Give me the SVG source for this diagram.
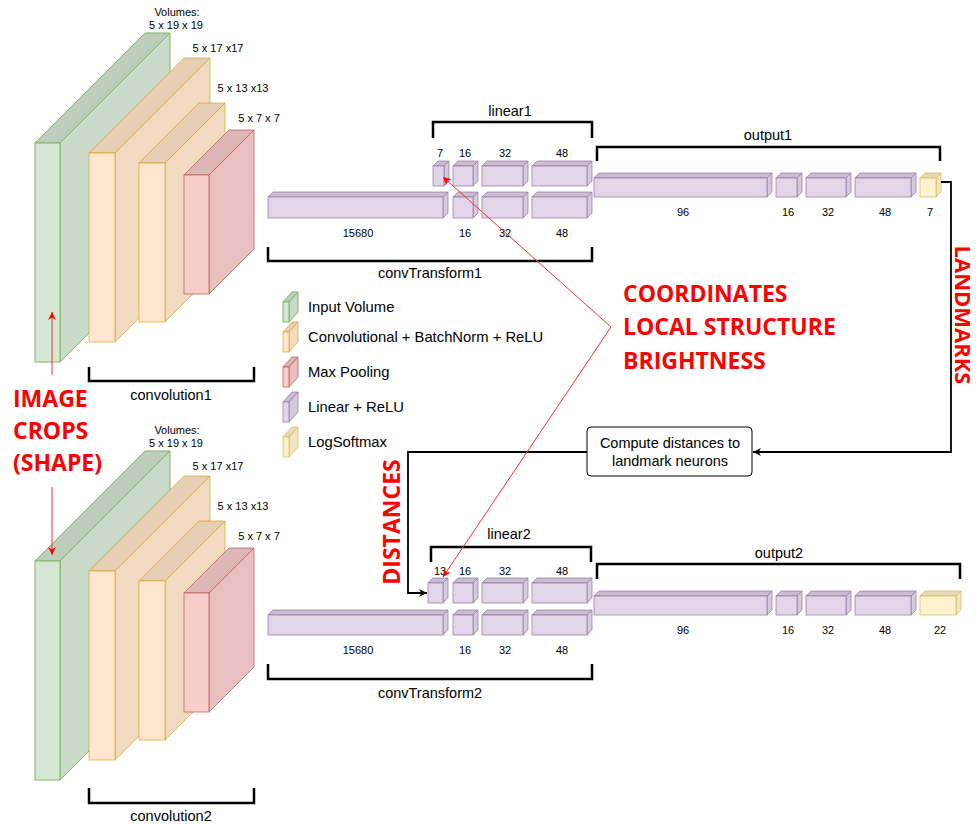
<svg xmlns="http://www.w3.org/2000/svg" width="979" height="824" viewBox="0 0 979 824">
<style>
text{font-family:"Liberation Sans",Arial,sans-serif;fill:#000}
.s11{font-size:11px;text-anchor:middle}
.s14{font-size:14.5px;text-anchor:middle}
.lg{font-size:14.8px}
.red{font-family:"Open Sans","Liberation Sans",sans-serif;font-weight:700;font-size:23px;fill:#ff0000}
.br{fill:none;stroke:#000;stroke-width:2.5}
.cn{fill:none;stroke:#000;stroke-width:1.8}
.rl{fill:none;stroke:#e33;stroke-width:1}
.g path,.g rect{stroke:#82b366;stroke-width:1}
.g .f{fill:#d5e8d4}.g .s{fill:#c9dbc8}.g .t{fill:#bdcfbc}
.o path,.o rect{stroke:#d79b00;stroke-width:1;stroke-opacity:.6}
.o .f{fill:#ffe6cc}.o .s{fill:#f2dac0}.o .t{fill:#e6cfb5}
.r path,.r rect{stroke:#b85450;stroke-width:1;stroke-opacity:.7}
.r .f{fill:#f8cecc}.r .s{fill:#e9c0c0}.r .t{fill:#ddb6b6}
.p path,.p rect{stroke:#9673a6;stroke-width:1;stroke-opacity:.7}
.p .f{fill:#e1d5e7}.p .s{fill:#d5c9db}.p .t{fill:#c9bdd0}
.y path,.y rect{stroke:#d6b656;stroke-width:1;stroke-opacity:.7}
.y .f{fill:#fff2cc}.y .s{fill:#f2e6c2}.y .t{fill:#e6dab8}
</style>
<defs>
<marker id="ab" viewBox="0 0 10 10" refX="10" refY="5" markerWidth="9" markerHeight="8" markerUnits="userSpaceOnUse" orient="auto"><path d="M0,0 L10,5 L0,10 L3,5 z" fill="#000"/></marker>
<marker id="ar" viewBox="0 0 10 10" refX="10" refY="5" markerWidth="10" markerHeight="8" markerUnits="userSpaceOnUse" orient="auto"><path d="M0,0 L10,5 L0,10 L3,5 z" fill="#ff0000"/></marker>
</defs>

<!-- convolution block 1 -->
<g id="conv1">
<g class="g"><path class="t" d="M35,143 l110,-110 h25 l-110,110 z"/><path class="s" d="M60,143 l110,-110 v219 l-110,110 z"/><rect class="f" x="35" y="143" width="25" height="219"/></g>
<g class="o"><path class="t" d="M89,153 l95,-95 h26 l-95,95 z"/><path class="s" d="M115,153 l95,-95 v189 l-95,95 z"/><rect class="f" x="89" y="153" width="26" height="189"/></g>
<g class="o"><path class="t" d="M139,163 l60,-60 h26 l-60,60 z"/><path class="s" d="M165,163 l60,-60 v159 l-60,60 z"/><rect class="f" x="139" y="163" width="26" height="159"/></g>
<g class="r"><path class="t" d="M184,175 l45,-45 h25 l-45,45 z"/><path class="s" d="M209,175 l45,-45 v119 l-45,45 z"/><rect class="f" x="184" y="175" width="25" height="119"/></g>
<text class="s11" x="177" y="16">Volumes:</text>
<text class="s11" x="176" y="29">5 x 19 x 19</text>
<text class="s11" x="218" y="52">5 x 17 x17</text>
<text class="s11" x="243" y="92">5 x 13 x13</text>
<text class="s11" x="259" y="122">5 x 7 x 7</text>
<path class="br" d="M89,367 V381 H254 V367"/>
<text class="s14" x="171" y="400">convolution1</text>
</g>

<!-- convolution block 2 -->
<g id="conv2">
<g class="g"><path class="t" d="M35,561 l110,-110 h25 l-110,110 z"/><path class="s" d="M60,561 l110,-110 v219 l-110,110 z"/><rect class="f" x="35" y="561" width="25" height="219"/></g>
<g class="o"><path class="t" d="M89,571 l95,-95 h26 l-95,95 z"/><path class="s" d="M115,571 l95,-95 v189 l-95,95 z"/><rect class="f" x="89" y="571" width="26" height="189"/></g>
<g class="o"><path class="t" d="M139,581 l60,-60 h26 l-60,60 z"/><path class="s" d="M165,581 l60,-60 v159 l-60,60 z"/><rect class="f" x="139" y="581" width="26" height="159"/></g>
<g class="r"><path class="t" d="M184,593 l45,-45 h25 l-45,45 z"/><path class="s" d="M209,593 l45,-45 v119 l-45,45 z"/><rect class="f" x="184" y="593" width="25" height="119"/></g>
<text class="s11" x="177" y="434">Volumes:</text>
<text class="s11" x="176" y="447">5 x 19 x 19</text>
<text class="s11" x="218" y="470">5 x 17 x17</text>
<text class="s11" x="243" y="510">5 x 13 x13</text>
<text class="s11" x="259" y="540">5 x 7 x 7</text>
<path class="br" d="M89,788 V803 H254 V788"/>
<text class="s14" x="171" y="821">convolution2</text>
</g>

<!-- linear / convTransform 1 -->
<g id="linear1">
<g class="p"><path class="t" d="M268,197 l5,-5 h175 l-5,5 z"/><path class="s" d="M443,197 l5,-5 v21 l-5,5 z"/><rect class="f" x="268" y="197" width="175" height="21"/></g>
<g class="p"><path class="t" d="M453,197 l5,-5 h20 l-5,5 z"/><path class="s" d="M473,197 l5,-5 v21 l-5,5 z"/><rect class="f" x="453" y="197" width="20" height="21"/></g>
<g class="p"><path class="t" d="M482,197 l5,-5 h41 l-5,5 z"/><path class="s" d="M523,197 l5,-5 v21 l-5,5 z"/><rect class="f" x="482" y="197" width="41" height="21"/></g>
<g class="p"><path class="t" d="M532,197 l5,-5 h55 l-5,5 z"/><path class="s" d="M587,197 l5,-5 v21 l-5,5 z"/><rect class="f" x="532" y="197" width="55" height="21"/></g>
<g class="p"><path class="t" d="M433,166 l5,-5 h11 l-5,5 z"/><path class="s" d="M444,166 l5,-5 v20 l-5,5 z"/><rect class="f" x="433" y="166" width="11" height="20"/></g>
<g class="p"><path class="t" d="M453,166 l5,-5 h20 l-5,5 z"/><path class="s" d="M473,166 l5,-5 v20 l-5,5 z"/><rect class="f" x="453" y="166" width="20" height="20"/></g>
<g class="p"><path class="t" d="M482,166 l5,-5 h41 l-5,5 z"/><path class="s" d="M523,166 l5,-5 v20 l-5,5 z"/><rect class="f" x="482" y="166" width="41" height="20"/></g>
<g class="p"><path class="t" d="M532,166 l5,-5 h55 l-5,5 z"/><path class="s" d="M587,166 l5,-5 v20 l-5,5 z"/><rect class="f" x="532" y="166" width="55" height="20"/></g>
<text class="s11" x="440" y="157">7</text>
<text class="s11" x="465" y="157">16</text>
<text class="s11" x="505" y="157">32</text>
<text class="s11" x="562" y="157">48</text>
<text class="s11" x="358" y="237">15680</text>
<text class="s11" x="465" y="237">16</text>
<text class="s11" x="505" y="237">32</text>
<text class="s11" x="562" y="237">48</text>
<path class="br" d="M433,138 V122 H592 V138"/>
<text class="s14" x="510" y="116">linear1</text>
<path class="br" d="M268,247 V261 H592 V247"/>
<text class="s14" x="430" y="278">convTransform1</text>
</g>

<!-- output 1 -->
<g id="output1">
<g class="p"><path class="t" d="M594,178 l5,-5 h173 l-5,5 z"/><path class="s" d="M767,178 l5,-5 v19 l-5,5 z"/><rect class="f" x="594" y="178" width="173" height="19"/></g>
<g class="p"><path class="t" d="M776,178 l5,-5 h21 l-5,5 z"/><path class="s" d="M797,178 l5,-5 v19 l-5,5 z"/><rect class="f" x="776" y="178" width="21" height="19"/></g>
<g class="p"><path class="t" d="M806,178 l5,-5 h40 l-5,5 z"/><path class="s" d="M846,178 l5,-5 v19 l-5,5 z"/><rect class="f" x="806" y="178" width="40" height="19"/></g>
<g class="p"><path class="t" d="M855,178 l5,-5 h56 l-5,5 z"/><path class="s" d="M911,178 l5,-5 v19 l-5,5 z"/><rect class="f" x="855" y="178" width="56" height="19"/></g>
<g class="y"><path class="t" d="M920,178 l5,-5 h16 l-5,5 z"/><path class="s" d="M936,178 l5,-5 v19 l-5,5 z"/><rect class="f" x="920" y="178" width="16" height="19"/></g>
<text class="s11" x="683" y="216">96</text>
<text class="s11" x="788" y="216">16</text>
<text class="s11" x="828" y="216">32</text>
<text class="s11" x="885" y="216">48</text>
<text class="s11" x="930" y="216">7</text>
<path class="br" d="M597,161 V147 H940 V161"/>
<text class="s14" x="768" y="140">output1</text>
</g>

<!-- linear / convTransform 2 -->
<g id="linear2">
<g class="p"><path class="t" d="M268,615 l5,-5 h175 l-5,5 z"/><path class="s" d="M443,615 l5,-5 v20 l-5,5 z"/><rect class="f" x="268" y="615" width="175" height="20"/></g>
<g class="p"><path class="t" d="M453,615 l5,-5 h20 l-5,5 z"/><path class="s" d="M473,615 l5,-5 v20 l-5,5 z"/><rect class="f" x="453" y="615" width="20" height="20"/></g>
<g class="p"><path class="t" d="M482,615 l5,-5 h41 l-5,5 z"/><path class="s" d="M523,615 l5,-5 v20 l-5,5 z"/><rect class="f" x="482" y="615" width="41" height="20"/></g>
<g class="p"><path class="t" d="M532,615 l5,-5 h55 l-5,5 z"/><path class="s" d="M587,615 l5,-5 v20 l-5,5 z"/><rect class="f" x="532" y="615" width="55" height="20"/></g>
<g class="p"><path class="t" d="M428,583 l5,-5 h15 l-5,5 z"/><path class="s" d="M443,583 l5,-5 v20 l-5,5 z"/><rect class="f" x="428" y="583" width="15" height="20"/></g>
<g class="p"><path class="t" d="M453,583 l5,-5 h20 l-5,5 z"/><path class="s" d="M473,583 l5,-5 v20 l-5,5 z"/><rect class="f" x="453" y="583" width="20" height="20"/></g>
<g class="p"><path class="t" d="M482,583 l5,-5 h41 l-5,5 z"/><path class="s" d="M523,583 l5,-5 v20 l-5,5 z"/><rect class="f" x="482" y="583" width="41" height="20"/></g>
<g class="p"><path class="t" d="M532,583 l5,-5 h55 l-5,5 z"/><path class="s" d="M587,583 l5,-5 v20 l-5,5 z"/><rect class="f" x="532" y="583" width="55" height="20"/></g>
<text class="s11" x="440" y="575">13</text>
<text class="s11" x="465" y="575">16</text>
<text class="s11" x="505" y="575">32</text>
<text class="s11" x="562" y="575">48</text>
<text class="s11" x="358" y="654">15680</text>
<text class="s11" x="465" y="654">16</text>
<text class="s11" x="505" y="654">32</text>
<text class="s11" x="562" y="654">48</text>
<path class="br" d="M431,562 V547 H591 V562"/>
<text class="s14" x="509" y="539">linear2</text>
<path class="br" d="M268,664 V679 H592 V664"/>
<text class="s14" x="430" y="698">convTransform2</text>
</g>

<!-- output 2 -->
<g id="output2">
<g class="p"><path class="t" d="M594,596 l5,-5 h173 l-5,5 z"/><path class="s" d="M767,596 l5,-5 v19 l-5,5 z"/><rect class="f" x="594" y="596" width="173" height="19"/></g>
<g class="p"><path class="t" d="M776,596 l5,-5 h21 l-5,5 z"/><path class="s" d="M797,596 l5,-5 v19 l-5,5 z"/><rect class="f" x="776" y="596" width="21" height="19"/></g>
<g class="p"><path class="t" d="M806,596 l5,-5 h40 l-5,5 z"/><path class="s" d="M846,596 l5,-5 v19 l-5,5 z"/><rect class="f" x="806" y="596" width="40" height="19"/></g>
<g class="p"><path class="t" d="M855,596 l5,-5 h56 l-5,5 z"/><path class="s" d="M911,596 l5,-5 v19 l-5,5 z"/><rect class="f" x="855" y="596" width="56" height="19"/></g>
<g class="y"><path class="t" d="M920,596 l5,-5 h36 l-5,5 z"/><path class="s" d="M956,596 l5,-5 v19 l-5,5 z"/><rect class="f" x="920" y="596" width="36" height="19"/></g>
<text class="s11" x="683" y="634">96</text>
<text class="s11" x="788" y="634">16</text>
<text class="s11" x="828" y="634">32</text>
<text class="s11" x="885" y="634">48</text>
<text class="s11" x="940" y="634">22</text>
<path class="br" d="M597,579 V564 H960 V579"/>
<text class="s14" x="779" y="558">output2</text>
</g>

<!-- legend -->
<g id="legend">
<g class="g"><path class="t" d="M283,302 l9,-10 h6 l-9,10 z"/><path class="s" d="M289,302 l9,-10 v20 l-9,10 z"/><rect class="f" x="283" y="302" width="6" height="20"/></g>
<g class="o"><path class="t" d="M283,332 l9,-10 h6 l-9,10 z"/><path class="s" d="M289,332 l9,-10 v20 l-9,10 z"/><rect class="f" x="283" y="332" width="6" height="20"/></g>
<g class="r"><path class="t" d="M283,367 l9,-10 h6 l-9,10 z"/><path class="s" d="M289,367 l9,-10 v20 l-9,10 z"/><rect class="f" x="283" y="367" width="6" height="20"/></g>
<g class="p"><path class="t" d="M283,402 l9,-10 h6 l-9,10 z"/><path class="s" d="M289,402 l9,-10 v20 l-9,10 z"/><rect class="f" x="283" y="402" width="6" height="20"/></g>
<g class="y"><path class="t" d="M283,437 l9,-10 h6 l-9,10 z"/><path class="s" d="M289,437 l9,-10 v20 l-9,10 z"/><rect class="f" x="283" y="437" width="6" height="20"/></g>
<text class="lg" x="308" y="312">Input Volume</text>
<text class="lg" x="308" y="342">Convolutional + BatchNorm + ReLU</text>
<text class="lg" x="308" y="377">Max Pooling</text>
<text class="lg" x="308" y="412">Linear + ReLU</text>
<text class="lg" x="308" y="447">LogSoftmax</text>
</g>

<!-- distance box -->
<g id="distbox">
<rect x="587" y="427" width="165" height="49" rx="4" fill="#fff" stroke="#000" stroke-width="1"/>
<text class="s14" x="670" y="448">Compute distances to</text>
<text class="s14" x="670" y="466">landmark neurons</text>
</g>

<!-- annotations -->
<g id="annotations">
<text class="red" x="13" y="407">IMAGE</text>
<text class="red" x="13" y="439">CROPS</text>
<text class="red" x="13" y="471">(SHAPE)</text>
<text class="red" x="623" y="302">COORDINATES</text>
<text class="red" x="623" y="335">LOCAL STRUCTURE</text>
<text class="red" x="623" y="369">BRIGHTNESS</text>
<text class="red" transform="translate(955,315) rotate(90)" text-anchor="middle" style="font-size:22px">LANDMARKS</text>
<text class="red" transform="translate(400,522) rotate(-90)" text-anchor="middle">DISTANCES</text>
</g>

<!-- connectors -->
<g id="connectors">
<path class="cn" d="M941,182 H951 V452 H753" marker-end="url(#ab)"/>
<path class="cn" d="M587,452 H408 V593 H427" marker-end="url(#ab)"/>
<path class="rl" d="M52,375 V312" marker-end="url(#ar)"/>
<path class="rl" d="M52,487 V555" marker-end="url(#ar)"/>
<path class="rl" d="M611,327 L443,177" marker-end="url(#ar)"/>
<path class="rl" d="M611,327 L443,577" marker-end="url(#ar)"/>
</g>
</svg>
